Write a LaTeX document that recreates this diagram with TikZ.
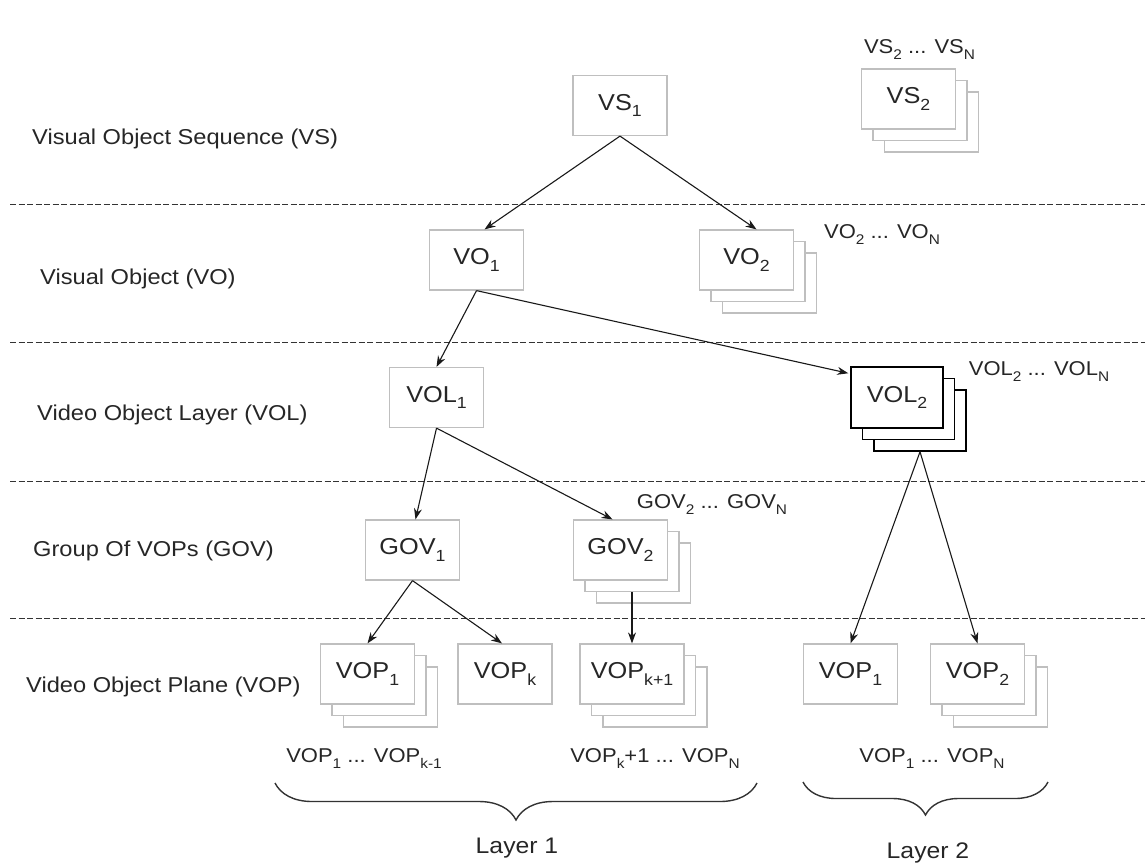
\documentclass[tikz,border=0pt]{standalone}
\usepackage{fontspec}
\setmainfont{Liberation Sans}[FakeStretch=1.1]
\usepackage{graphicx}
\usetikzlibrary{arrows.meta,decorations.pathreplacing,calc}
% lowered, reduced-size index used in the labels
\newcommand\lsub[1]{\raisebox{-0.3em}{\scalebox{0.7}{#1}}}

\begin{document}
\begin{tikzpicture}[x=1pt,y=-1pt,
  every node/.style={text=black!85, inner sep=0pt},
  box/.style={draw=black!25, line width=1.2pt, fill=white,
    minimum width=94pt, minimum height=60pt, font=\fontsize{23}{27}\selectfont},
  darkbox/.style={box, draw=black, line width=1.5pt, minimum width=92pt, minimum height=61pt},
  levellabel/.style={anchor=base west, font=\fontsize{21.5}{25}\selectfont},
  rangelabel/.style={anchor=base, font=\fontsize{20}{24}\selectfont},
  layerlabel/.style={anchor=base, font=\fontsize{22.5}{27}\selectfont},
  sep/.style={draw=black!80, line width=1pt, dash pattern=on 6pt off 2.5pt},
  link/.style={draw=black!90, line width=1.1pt, -{Stealth[length=11pt,width=8pt]}},
  bracket/.style={draw=black!80, line width=1.4pt, decorate,
    decoration={brace, mirror, amplitude=#1}}
]
\useasboundingbox (0,0) rectangle (1145,865);

% level separators
\draw[sep] (10,204) -- (1145,204);
\draw[sep] (10,342) -- (1145,342);
\draw[sep] (10,481) -- (1145,481);
\draw[sep] (10,618) -- (1145,618);

% level names
\node[levellabel] (lVS)  at (32,144) {Visual Object Sequence (VS)};
\node[levellabel] (lVO)  at (40,284) {Visual Object (VO)};
\node[levellabel] (lVOL) at (37,420) {Video Object Layer (VOL)};
\node[levellabel] (lGOV) at (33,556) {Group Of VOPs (GOV)};
\node[levellabel] (lVOP) at (26,692) {Video Object Plane (VOP)};

% visual object sequences
\node[box] (VS1) at (620,105.5) {VS\lsub{1}};
\node[box] (VS2c) at (931.5,122) {};
\node[box] (VS2b) at (920,110.5) {};
\node[box] (VS2) at (908.5,99) {VS\lsub{2}};
\node[rangelabel] (rVS) at (919.5,53) {VS\lsub{2} ... VS\lsub{N}};

% visual objects
\node[box] (VO1) at (476.5,260) {VO\lsub{1}};
\node[box] (VO2c) at (769.5,283) {};
\node[box] (VO2b) at (758,271.5) {};
\node[box] (VO2) at (746.5,260) {VO\lsub{2}};
\node[rangelabel] (rVO) at (882,238) {VO\lsub{2} ... VO\lsub{N}};

% video object layers
\node[box] (VOL1) at (436.5,397.5) {VOL\lsub{1}};
\node[darkbox] (VOL2c) at (920,420.5) {};
\node[darkbox] (VOL2b) at (908.5,409) {};
\node[darkbox] (VOL2) at (897,397.5) {VOL\lsub{2}};
\node[rangelabel] (rVOL) at (1039,375) {VOL\lsub{2} ... VOL\lsub{N}};

% groups of VOPs
\node[box] (GOV1) at (412.5,550) {GOV\lsub{1}};
\node[box] (GOV2c) at (643.5,573) {};
\node[box] (GOV2b) at (632,561.5) {};
\node[box] (GOV2) at (620.5,550) {GOV\lsub{2}};
\node[rangelabel] (rGOV) at (712,508) {GOV\lsub{2} ... GOV\lsub{N}};

% video object planes, layer 1
\node[box] (VOP1c) at (390.5,697) {};
\node[box] (VOP1b) at (379,685.5) {};
\node[box] (VOP1) at (367.5,674) {VOP\lsub{1}};
\node[box] (VOPk) at (505,674) {VOP\lsub{k}};
\node[box, minimum width=104pt] (VOPk1c) at (655,697) {};
\node[box, minimum width=104pt] (VOPk1b) at (643.5,685.5) {};
\node[box, minimum width=104pt] (VOPk1) at (632,674) {VOP\lsub{k+1}};
\node[rangelabel] (rVOPa) at (364,762) {VOP\lsub{1} ... VOP\lsub{k-1}};
\node[rangelabel] (rVOPb) at (655,762) {VOP\lsub{k}+1 ... VOP\lsub{N}};

% video object planes, layer 2
\node[box] (LVOP1) at (850.5,674) {VOP\lsub{1}};
\node[box] (LVOP2c) at (1000.5,697) {};
\node[box] (LVOP2b) at (989,685.5) {};
\node[box] (LVOP2) at (977.5,674) {VOP\lsub{2}};
\node[rangelabel] (rVOPc) at (932,762) {VOP\lsub{1} ... VOP\lsub{N}};

% hierarchy links
\draw[link] (VS1.south) -- ($(VO1.north)+(8,0)$);
\draw[link] (VS1.south) -- ($(VO2.north)+(10,0)$);
\draw[link] (VO1.south) -- (VOL1.north);
\draw[link] (VO1.south) -- ($(VOL2.north west)+(-2,7)$);
\draw[link] (VOL1.south) -- ($(GOV1.north)+(3,0)$);
\draw[link] (VOL1.south) -- ($(GOV2.north)+(-8,0)$);
\draw[link] (GOV1.south) -- (VOP1.north);
\draw[link] (GOV1.south) -- ($(VOPk.north)+(-3,0)$);
\draw[link] (VOPk1.north |- GOV2b.south) -- (VOPk1.north);
\draw[link] (VOL2c.south) -- (LVOP1.north);
\draw[link] (VOL2c.south) -- (LVOP2.north);

% layer brackets
\draw[bracket=37pt] (275,783) -- (757,783);
\draw[bracket=33pt] (803,782) -- (1048,782);
\node[layerlabel] (layer1) at (517,853) {Layer 1};
\node[layerlabel] (layer2) at (928,858) {Layer 2};
\end{tikzpicture}
\end{document}
